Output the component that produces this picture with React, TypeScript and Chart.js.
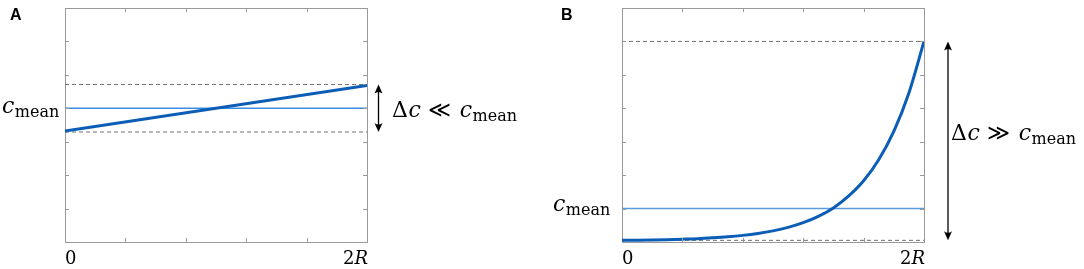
import React, { useEffect, useRef } from "react";
import { Chart, registerables } from "chart.js";

Chart.register(...registerables);

// ---- data ----
const X_TICKS = [0, 0.4, 0.8, 1.2, 1.6, 2];
const Y_TICKS = [0, 1, 2, 3, 4, 5, 6, 7];

// Panel A: nearly linear profile
const A_X = [0, 2];
const A_C = [3.32, 4.68];
const A_MEAN = 4.0;
const A_DASH = [3.29, 4.71];

// Panel B: steep profile
const B_X = [0, 0.1, 0.2, 0.3, 0.4, 0.5, 0.6, 0.7, 0.8, 0.9, 1.0, 1.1, 1.2, 1.3, 1.4, 1.5, 1.6, 1.7, 1.8, 1.9, 2.0];
const B_C = [0.05, 0.055, 0.062, 0.071, 0.084, 0.1, 0.125, 0.156, 0.198, 0.255, 0.332, 0.436, 0.577, 0.766, 1.02, 1.37, 1.83, 2.46, 3.31, 4.46, 6.0];
const B_MEAN = 1.0;
const B_DASH = [0.05, 6.0];

const X_LABELS = ["0", "2R"];

const MAIN_FONT = '22px "DejaVu Serif"';
const ITAL_FONT = 'italic 22px "DejaVu Serif"';
const SUB_FONT = '16px "DejaVu Serif"';
const TICK_FONT = '18px "DejaVu Serif"';
const TICK_ITAL = 'italic 18px "DejaVu Serif"';

type PanelCfg = {
  letter: string;
  canvasLeft: number;
  canvasWidth: number;
  padLeft: number;
  padRight: number;
  xs: number[];
  ys: number[];
  mean: number;
  dash: number[];
  meanColor: string;
  relation: string;
  arrowDx: number;
  textDx: number;
  textBaselineFromMid: number;
  leftLabelX: number;
  leftLabelDy: number;
  letterX: number;
  monotone: boolean;
};

const PANELS: PanelCfg[] = [
  {
    letter: "A",
    canvasLeft: 0,
    canvasWidth: 540,
    padLeft: 65,
    padRight: 173,
    xs: A_X,
    ys: A_C,
    mean: A_MEAN,
    dash: A_DASH,
    meanColor: "#3a8de0",
    relation: "\u226A",
    arrowDx: 11.5,
    textDx: 25,
    textBaselineFromMid: 8.5,
    leftLabelX: 2,
    leftLabelDy: 2.7,
    letterX: 10,
    monotone: false,
  },
  {
    letter: "B",
    canvasLeft: 540,
    canvasWidth: 544,
    padLeft: 82,
    padRight: 160,
    xs: B_X,
    ys: B_C,
    mean: B_MEAN,
    dash: B_DASH,
    meanColor: "#5a9bdb",
    relation: "\u226B",
    arrowDx: 24,
    textDx: 27,
    textBaselineFromMid: -1,
    leftLabelX: 13,
    leftLabelDy: 0,
    letterX: 21,
    monotone: true,
  },
];

function drawCMean(ctx: CanvasRenderingContext2D, x: number, baseline: number) {
  ctx.font = ITAL_FONT;
  ctx.fillText("c", x, baseline);
  const w = ctx.measureText("c").width;
  ctx.font = SUB_FONT;
  ctx.fillText("mean", x + w + 0.5, baseline + 4);
}

function drawArrow(ctx: CanvasRenderingContext2D, x: number, yTop: number, yBot: number) {
  ctx.save();
  ctx.strokeStyle = "#000";
  ctx.fillStyle = "#000";
  ctx.lineWidth = 1.3;
  ctx.beginPath();
  ctx.moveTo(x, yTop + 4);
  ctx.lineTo(x, yBot - 4);
  ctx.stroke();
  const head = (tipY: number, dir: number) => {
    ctx.beginPath();
    ctx.moveTo(x, tipY);
    ctx.lineTo(x - 4, tipY + dir * 9);
    ctx.quadraticCurveTo(x, tipY + dir * 6, x + 4, tipY + dir * 9);
    ctx.closePath();
    ctx.fill();
  };
  head(yTop, 1);
  head(yBot, -1);
  ctx.restore();
}

function makePlugin(p: PanelCfg) {
  return {
    id: "decor" + p.letter,
    afterDraw(chart: any) {
      const ctx: CanvasRenderingContext2D = chart.ctx;
      const { left, right, top, bottom } = chart.chartArea;
      const xs = chart.scales.x;
      const ys = chart.scales.y;
      ctx.save();
      // inward tick marks
      ctx.strokeStyle = "#9a9a9a";
      ctx.lineWidth = 1;
      ctx.beginPath();
      X_TICKS.slice(1, -1).forEach((v) => {
        const px = Math.round(xs.getPixelForValue(v)) + 0.5;
        ctx.moveTo(px, bottom);
        ctx.lineTo(px, bottom - 4);
        ctx.moveTo(px, top);
        ctx.lineTo(px, top + 4);
      });
      Y_TICKS.slice(1, -1).forEach((v) => {
        const py = Math.round(ys.getPixelForValue(v)) + 0.5;
        ctx.moveTo(left, py);
        ctx.lineTo(left + 4, py);
        ctx.moveTo(right, py);
        ctx.lineTo(right - 4, py);
      });
      ctx.stroke();

      // arrow
      const yHi = ys.getPixelForValue(p.dash[1]);
      const yLo = ys.getPixelForValue(p.dash[0]);
      drawArrow(ctx, right + p.arrowDx, yHi, yLo);

      ctx.fillStyle = "#000";
      ctx.textBaseline = "alphabetic";
      ctx.textAlign = "left";

      // Δc relation label
      const mid = p.letter === "A" ? ys.getPixelForValue(p.mean) : (yHi + yLo) / 2;
      const base = mid + p.textBaselineFromMid;
      let tx = right + p.textDx;
      ctx.font = MAIN_FONT;
      ctx.fillText("\u0394", tx, base);
      tx += ctx.measureText("\u0394").width + 0.5;
      ctx.font = ITAL_FONT;
      ctx.fillText("c", tx, base);
      tx += ctx.measureText("c").width + 7;
      ctx.font = MAIN_FONT;
      ctx.fillText(p.relation, tx, base);
      tx += ctx.measureText(p.relation).width + 9;
      drawCMean(ctx, tx, base);

      // c_mean at left
      const ym = ys.getPixelForValue(p.mean);
      drawCMean(ctx, p.leftLabelX, ym + p.leftLabelDy + 2);

      // x tick labels
      ctx.font = TICK_FONT;
      ctx.fillText(X_LABELS[0], left, 264);
      ctx.font = TICK_ITAL;
      const wR = ctx.measureText("R").width;
      ctx.fillText("R", right + 1 - wR, 264);
      ctx.font = TICK_FONT;
      const w2 = ctx.measureText("2").width;
      ctx.fillText("2", right + 1 - wR - w2, 264);

      // panel letter
      ctx.font = 'bold 16px "Liberation Sans", Arial, sans-serif';
      ctx.fillText(p.letter, p.letterX, 20);
      ctx.restore();
    },
  };
}

const axisStyle = {
  ticks: { display: false },
  grid: { display: true, drawOnChartArea: false, drawTicks: false },
  border: { display: true, color: "#9a9a9a", width: 1 },
};

function Panel({ p }: { p: PanelCfg }) {
  const ref = useRef<HTMLCanvasElement | null>(null);
  useEffect(() => {
    if (!ref.current) return;
    const xmin = X_TICKS[0];
    const xmax = X_TICKS[X_TICKS.length - 1];
    const ymin = Y_TICKS[0];
    const ymax = Y_TICKS[Y_TICKS.length - 1];
    const hline = (v: number) => [
      { x: xmin, y: v },
      { x: xmax, y: v },
    ];
    const chart = new Chart(ref.current, {
      type: "line",
      data: {
        datasets: [
          {
            data: p.xs.map((x, i) => ({ x, y: p.ys[i] })),
            borderColor: "#0b5db6",
            borderWidth: 3,
            pointRadius: 0,
            fill: false,
            cubicInterpolationMode: p.monotone ? "monotone" : "default",
            order: 0,
          },
          {
            data: hline(p.mean),
            borderColor: p.meanColor,
            borderWidth: 1.4,
            pointRadius: 0,
            fill: false,
            order: 1,
          },
          {
            data: hline(p.dash[0]),
            borderColor: "#707070",
            borderWidth: 1,
            borderDash: [4, 3],
            pointRadius: 0,
            fill: false,
            order: 2,
          },
          {
            data: hline(p.dash[1]),
            borderColor: "#707070",
            borderWidth: 1,
            borderDash: [4, 3],
            pointRadius: 0,
            fill: false,
            order: 2,
          },
        ],
      } as any,
      options: {
        animation: false,
        responsive: false,
        devicePixelRatio: 1,
        events: [],
        layout: { padding: { left: p.padLeft, right: p.padRight, top: 8, bottom: 27 } },
        plugins: { legend: { display: false }, tooltip: { enabled: false } },
        scales: {
          x: { type: "linear", position: "bottom", min: xmin, max: xmax, ...axisStyle },
          y: { type: "linear", position: "left", min: ymin, max: ymax, ...axisStyle },
          x2: { type: "linear", position: "top", min: xmin, max: xmax, ...axisStyle },
          y2: { type: "linear", position: "right", min: ymin, max: ymax, ...axisStyle },
        },
      } as any,
      plugins: [makePlugin(p)],
    });
    return () => chart.destroy();
  }, [p]);
  return (
    <canvas
      ref={ref}
      width={p.canvasWidth}
      height={269}
      style={{ position: "absolute", left: p.canvasLeft, top: 0, width: p.canvasWidth, height: 269 }}
    />
  );
}

export default function App() {
  return (
    <div style={{ position: "fixed", left: 0, top: 0, width: 1084, height: 269, background: "#fff", overflow: "hidden" }}>
      {PANELS.map((p) => (
        <Panel key={p.letter} p={p} />
      ))}
    </div>
  );
}
